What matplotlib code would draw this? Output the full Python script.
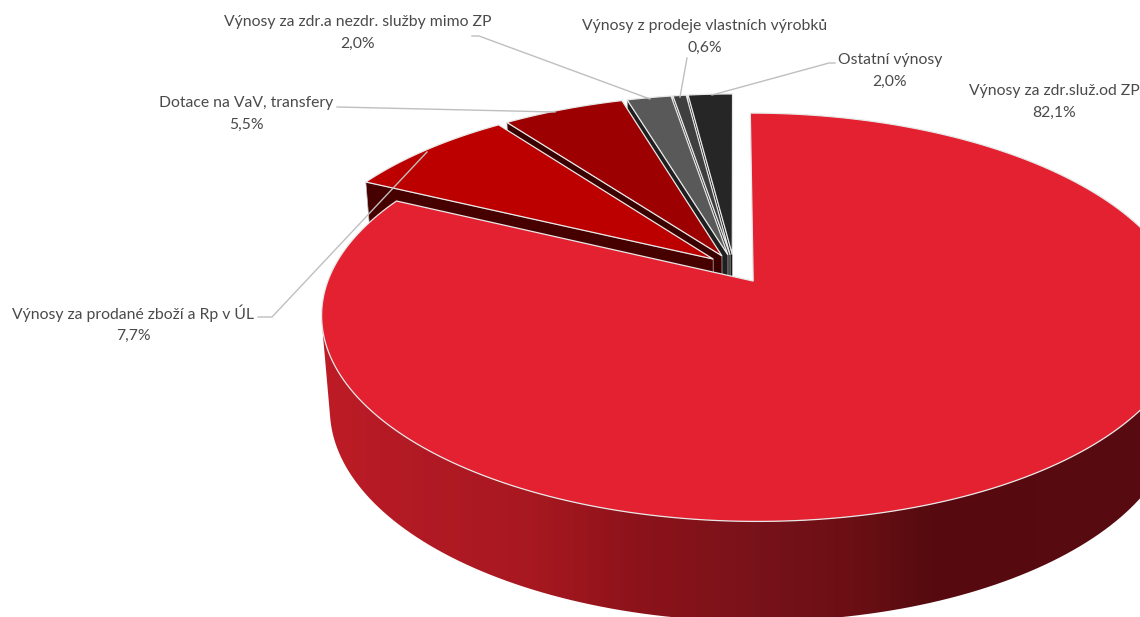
import numpy as np
import matplotlib
matplotlib.use("Agg")
import matplotlib.pyplot as plt
from matplotlib.patches import Polygon

# Data (clockwise from 12 o'clock)
labels = ["Výnosy za zdr.služ.od ZP", "Výnosy za prodané zboží a Rp v ÚL", "Dotace na VaV, transfery",
          "Výnosy za zdr.a nezdr. služby mimo ZP", "Výnosy z prodeje vlastních výrobků", "Ostatní výnosy"]
values = [82.1, 7.7, 5.5, 2.0, 0.6, 2.0]
top_colors = ["#E32130", "#BC0000", "#9C0000", "#595959", "#3F3F3F", "#262626"]
wall_colors = ["#5A0A10", "#470000", "#3A0000", "#1F1F1F", "#2A2A2A", "#111111"]

# text centre of each label and its leader line, in pixels
label_pos = [(1054, 102), (133, 324), (246, 114), (358, 33), (705, 37), (890, 71)]
leaders = [None,
           [(258, 317), (272, 317), (427, 152)],
           [(337, 107), (555, 112)],
           [(472, 36), (479, 36), (650, 99)],
           [(687, 58), (680, 97)],
           [(835, 63), (829, 63), (712, 95)]]

# Wall gradient of the big slice
grad_x = [320, 410, 530, 640, 760, 860, 930, 1140]
grad_r = [190, 178, 168, 140, 120, 105, 86, 88]
grad_g = [28, 26, 24, 18, 18, 15, 11, 10]
grad_b = [38, 36, 32, 26, 26, 20, 15, 16]

# Camera: pixel centre, scale and perspective of the disc
cx, cy = 734, 267
R, Rs = 420, 192.8
k = 0.175
explode_big = 0.085
explode_small = 0.065
depth0, depth1 = 92, 6


def project(u, v, low=False):
    w = 1 + k * v
    f = v / w
    x = cx + R * u / w
    y = cy - Rs * f
    if low:
        x = cx + (x - cx) * 0.98
        y = y + depth0 - depth1 * f
    return np.column_stack([x, y])


def slice_uv(a0, a1, explode, n=240):
    mid = (a0 + a1) / 2
    u0, v0 = explode * np.sin(mid), explode * np.cos(mid)
    t = np.linspace(a0, a1, n)
    return u0, v0, u0 + np.sin(t), v0 + np.cos(t)


fig = plt.figure(figsize=(11.4, 6.17), dpi=100)
ax = fig.add_axes([0, 0, 1, 1])

edges = np.cumsum([0] + values) / sum(values) * 2 * np.pi

# small slices back to front, then the big one
for i in [5, 4, 3, 2, 1, 0]:
    a0, a1 = edges[i], edges[i + 1]
    u0, v0, us, vs = slice_uv(a0, a1, explode_big if i == 0 else explode_small)
    rim_top = project(us, vs)
    apex_top = project(np.array([u0]), np.array([v0]))

    if i == 0:
        # only the front of the rim has a visible wall, up to the leftmost point
        t = np.linspace(a0, a1, len(us))
        front = (t > np.radians(60)) & (t < np.radians(258))
        rim_low = project(us[front], vs[front], low=True)
        wall = Polygon(np.vstack([rim_top[front], rim_low[::-1]]), closed=True, transform=ax.transData,
                       facecolor="none", edgecolor="none")
        ax.add_patch(wall)
        xs = np.arange(300, 1141)
        rgb = np.column_stack([np.interp(xs, grad_x, grad_r), np.interp(xs, grad_x, grad_g),
                               np.interp(xs, grad_x, grad_b)]) / 255
        im = ax.imshow(rgb[np.newaxis, :, :], extent=(300, 1141, 640, 90), aspect="auto", zorder=10)
        im.set_clip_path(wall)
    else:
        apex_low = project(np.array([u0]), np.array([v0]), low=True)
        edge_low = project(us[:1], vs[:1], low=True)
        side = np.vstack([apex_top, rim_top[:1], edge_low, apex_low])
        ax.add_patch(Polygon(side, closed=True, facecolor=wall_colors[i], edgecolor="#BBBBBB",
                             linewidth=0.5, zorder=10 - i))

    top = np.vstack([apex_top, rim_top])
    ax.add_patch(Polygon(top, closed=True, facecolor=top_colors[i], edgecolor="#E8E8E8",
                         linewidth=0.9, joinstyle="miter", zorder=10 - i + 0.5 + (5 if i == 0 else 0)))

# Labels and leader lines
for i in range(len(labels)):
    pct = f"{values[i]:.1f}".replace(".", ",") + "%"
    ax.text(label_pos[i][0], label_pos[i][1], labels[i] + "\n" + pct, ha="center", va="center",
            fontsize=11.35, family="Lato", color="#4A4A4A", linespacing=1.65, zorder=30)
    if leaders[i] is not None:
        xs_l, ys_l = zip(*leaders[i])
        ax.plot(xs_l, ys_l, color="#BFBFBF", linewidth=1, zorder=25)

ax.set_xlim(0, 1140)
ax.set_ylim(617, 0)
ax.axis("off")

fig.savefig("out.png", dpi=100)
